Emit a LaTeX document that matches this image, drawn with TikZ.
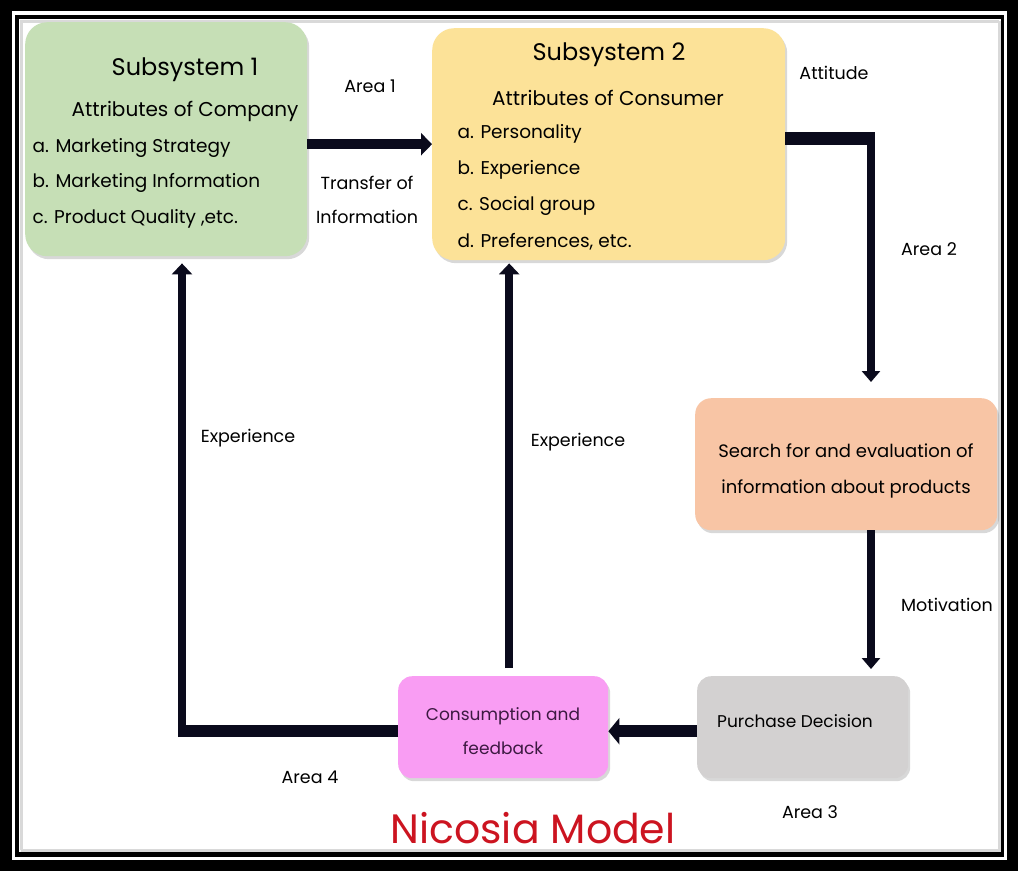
\documentclass[tikz,border=0pt]{standalone}
\usepackage{fontspec}
\setmainfont{Poppins}
\usetikzlibrary{arrows.meta,shadows}

\definecolor{linec}{HTML}{0A0A1C}
\definecolor{subonec}{HTML}{C6DFB6}
\definecolor{subtwoc}{HTML}{FCE298}
\definecolor{searchc}{HTML}{F8C5A5}
\definecolor{purchc}{HTML}{D3D1D1}
\definecolor{consc}{HTML}{F99DF3}
\definecolor{titlec}{HTML}{CC1420}

\begin{document}
\begin{tikzpicture}[x=1pt,y=-1pt,
    box/.style={rounded corners=22pt,anchor=north west,inner sep=0pt,
        drop shadow={opacity=0.3,shadow xshift=2pt,shadow yshift=-3pt}},
    flow/.style={line width=#1,draw=linec},
    tip/.style={-{Triangle[width=#1,length=11pt]}},
    head/.style={font=\fontsize{24}{28}\selectfont},
    sub/.style={font=\fontsize{20}{24}\selectfont},
    item/.style={anchor=west,font=\fontsize{18.5}{22}\selectfont},
    lbl/.style={font=\fontsize{17.5}{20}\selectfont}]

% Frame
\fill[black] (0,0) rectangle (1018,871);
\fill[white] (12,11) rectangle (1007,860);
\fill[black] (15,15) rectangle (1004,857);
\fill[white] (19,19) rectangle (1001,852);
\draw[gray!30,line width=3pt] (21,850) -- (21,21) -- (999,21);
\draw[gray!30,line width=3pt] (999,21) -- (999,850) -- (21,850);

% Boxes
\node[box,fill=subonec,minimum width=282pt,minimum height=234pt] (sub1) at (25,22) {};
\node[box,fill=subtwoc,minimum width=353pt,minimum height=232pt] (sub2) at (432,28) {};
\node[box,fill=searchc,minimum width=302pt,minimum height=132pt,rounded corners=16pt] (search) at (695,398) {};
\node[box,fill=purchc,minimum width=211pt,minimum height=102pt,rounded corners=14pt] (purch) at (697,676) {};
\node[box,fill=consc,minimum width=210pt,minimum height=102pt,rounded corners=14pt] (cons) at (398,676) {};

% Subsystem 1
\node[head] (s1head) at (185,70) {Subsystem 1};
\node[sub] (s1sub) at (185,111) {Attributes of Company};
\node[item] (s1a) at (29,148) {a. Marketing Strategy};
\node[item] (s1b) at (29,183) {b. Marketing Information};
\node[item] (s1c) at (29,219) {c. Product Quality ,etc.};

% Subsystem 2
\node[head] (s2head) at (609,55) {Subsystem 2};
\node[sub] (s2sub) at (608,98) {Attributes of Consumer};
\node[item] (s2a) at (454,134) {a. Personality};
\node[item] (s2b) at (454,170) {b. Experience};
\node[item] (s2c) at (454,206) {c. Social group};
\node[item] (s2d) at (454,242) {d. Preferences, etc.};

% Other box texts
\node[align=center,font=\fontsize{18}{36}\selectfont] (searchtxt) at (846,471)
    {Search for and evaluation of\\information about products};
\node[font=\fontsize{17}{20}\selectfont] (purchtxt) at (795,721) {Purchase Decision};
\node[align=center,text={rgb,255:red,60;green,25;blue,65},font=\fontsize{17}{34}\selectfont]
    (constxt) at (503,731) {Consumption and\\feedback};

% Helper points
\coordinate (a2) at (871,138);
\coordinate (a2end) at (871,382);

% Connectors
\draw[flow=10pt,tip=22pt] (sub1.east |- sub2.west) -- (sub2.west);
\draw[flow=13pt] (sub2.east |- a2) -- ([xshift=4pt]a2);
\draw[flow=8pt,tip=18pt] ([yshift=6pt]a2) -- (a2end);
\draw[flow=8pt,tip=18pt] (a2 |- search.south) -- ([yshift=7pt]a2 |- purch.north);
\draw[flow=12pt,tip=26pt] ([yshift=-4pt]purch.west) -- ([yshift=-4pt]cons.east);
\draw[flow=12pt] ([yshift=-4pt]cons.west) -- ++(-216,0) coordinate (a4);
\draw[flow=8pt,tip=20pt] ([yshift=-6pt]a4) -- ([yshift=-7pt]a4 |- sub1.south);
\draw[flow=8pt,tip=20pt] ([xshift=6pt,yshift=8pt]cons.north) -- ([xshift=6pt,yshift=-3pt]cons.north |- sub2.south);

% Labels
\node[lbl] (l1) at (370,86) {Area 1};
\node[lbl] (l1b) at (367,183) {Transfer of};
\node[lbl] (l1c) at (367,217) {Information};
\node[lbl] (l2) at (834,73) {Attitude};
\node[lbl] (l2b) at (929,249) {Area 2};
\node[lbl] (l3) at (947,605) {Motivation};
\node[lbl] (l3b) at (810,812) {Area 3};
\node[lbl] (l4) at (310,777) {Area 4};
\node[lbl] (e1) at (248,438) {Experience};
\node[lbl] (e2) at (578,442) {Experience};

% Title
\node[text=titlec,font=\fontsize{41}{44}\selectfont] (title) at (533,828) {Nicosia Model};

\end{tikzpicture}
\end{document}
